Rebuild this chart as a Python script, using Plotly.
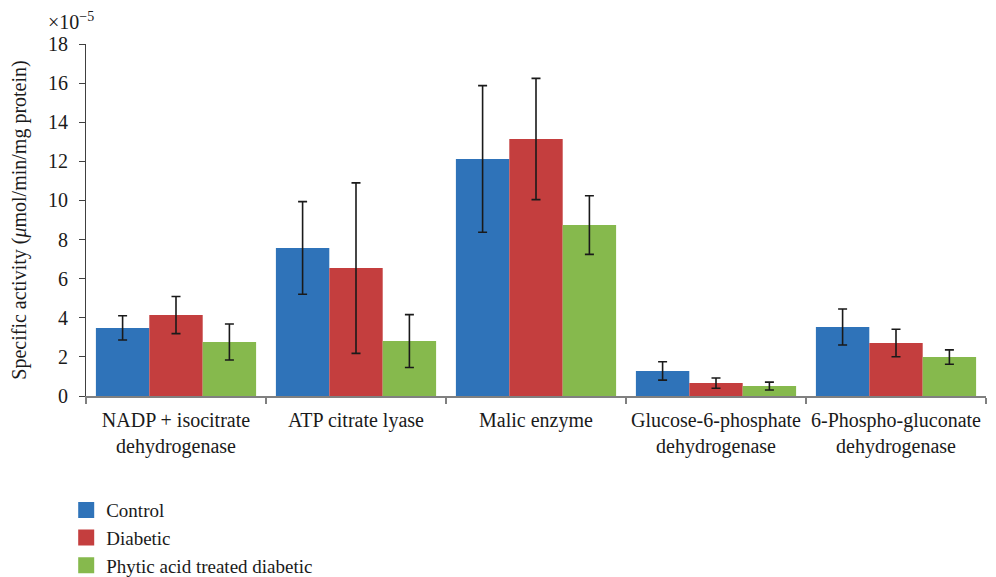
import plotly.graph_objects as go

categories = [
    "NADP + isocitrate<br>dehydrogenase",
    "ATP citrate lyase",
    "Malic enzyme",
    "Glucose-6-phosphate<br>dehydrogenase",
    "6-Phospho-gluconate<br>dehydrogenase",
]
series_names = ["Control", "Diabetic", "Phytic acid treated diabetic"]
control = [3.48, 7.57, 12.12, 1.28, 3.53]
control_err = [0.62, 2.37, 3.75, 0.47, 0.92]
diabetic = [4.14, 6.54, 13.14, 0.66, 2.71]
diabetic_err = [0.95, 4.36, 3.10, 0.26, 0.70]
phytic = [2.76, 2.81, 8.74, 0.51, 1.99]
phytic_err = [0.92, 1.35, 1.50, 0.20, 0.37]
y_ticks = [0, 2, 4, 6, 8, 10, 12, 14, 16, 18]

colors = ["#2F73B9", "#C43E3E", "#86B94D"]
values = [control, diabetic, phytic]
errors = [control_err, diabetic_err, phytic_err]

FONT = "Liberation Serif, DejaVu Serif, serif"

fig = go.Figure()
for name, vals, errs, col in zip(series_names, values, errors, colors):
    fig.add_trace(go.Bar(
        x=categories, y=vals, name=name,
        marker=dict(color=col, line=dict(width=0)),
        error_y=dict(type="data", array=errs, visible=True,
                     color="#1a1a1a", thickness=1.6, width=4.5),
        showlegend=False,
    ))
    fig.add_trace(go.Scatter(
        x=[None], y=[None], mode="markers", name=name,
        marker=dict(symbol="square", size=16, color=col),
        showlegend=True,
    ))

fig.update_layout(
    width=996, height=577,
    margin=dict(l=78, r=18, t=36, b=189, autoexpand=False),
    plot_bgcolor="white", paper_bgcolor="white",
    barmode="group", bargap=0.11, bargroupgap=0,
    font=dict(family=FONT, size=20, color="#1a1a1a"),
    legend=dict(
        x=-0.022, y=-0.270, xanchor="left", yanchor="top",
        font=dict(family=FONT, size=19, color="#1a1a1a"),
        itemsizing="trace", tracegroupgap=0,
        bgcolor="rgba(0,0,0,0)",
    ),
    xaxis=dict(
        type="category", tickson="boundaries", tickangle=0,
        showline=True, linecolor="#808080", linewidth=1.5,
        ticks="outside", ticklen=6, tickcolor="#808080", tickwidth=1.5,
        showgrid=False, tickfont=dict(family=FONT, size=20), ticklabelstandoff=5,
    ),
    yaxis=dict(
        range=[0, 18], tickvals=y_ticks, ticktext=[str(v) for v in y_ticks],
        showline=True, linecolor="#404040", linewidth=1.2,
        ticks="outside", ticklen=6, tickcolor="#404040",
        showgrid=False, zeroline=False, tickfont=dict(family=FONT, size=20),
        ticklabelstandoff=7,
        title=dict(text="Specific activity (<i>μ</i>mol/min/mg protein)",
                   font=dict(family=FONT, size=20), standoff=30),
    ),
    annotations=[dict(
        text="×10<sup>−5</sup>", xref="paper", yref="paper",
        x=-0.045, y=1.0, xanchor="left", yanchor="bottom", yshift=9,
        showarrow=False, font=dict(family=FONT, size=20),
    )],
)

fig.write_html("out.html")
